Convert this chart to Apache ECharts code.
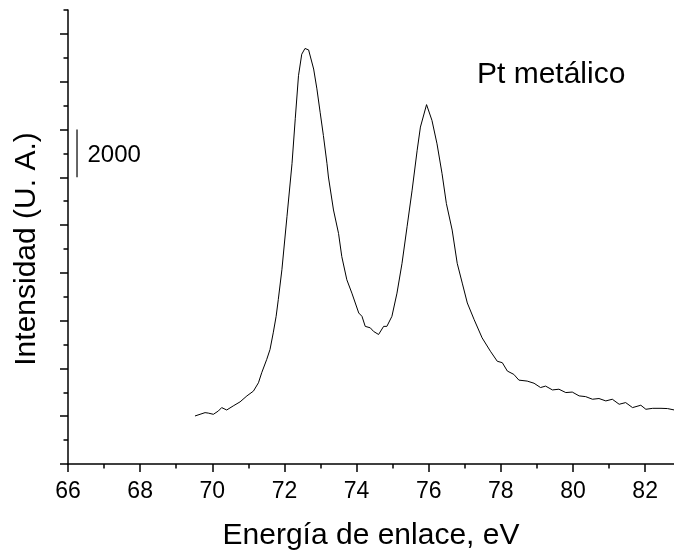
<!DOCTYPE html>
<html>
<head>
<meta charset="utf-8">
<script src="https://cdn.jsdelivr.net/npm/echarts@6/dist/echarts.min.js"></script>
<style>
  html, body { margin: 0; padding: 0; background: #fff; }
  #chart { width: 674px; height: 556px; }
</style>
</head>
<body>
<div id="chart"></div>
<script>
// Binding energy (eV)
const energies = [
  69.52, 69.66, 69.80, 69.89, 70.03, 70.17, 70.26, 70.40, 70.58, 70.77,
  70.96, 71.14, 71.28, 71.37, 71.51, 71.60, 71.69, 71.77, 71.83, 71.93,
  72.07, 72.21, 72.30, 72.39, 72.48, 72.57, 72.62, 72.67, 72.71, 72.81,
  72.90, 72.99, 73.08, 73.18, 73.22, 73.36, 73.50, 73.59, 73.73, 73.87,
  74.06, 74.15, 74.24, 74.38, 74.47, 74.61, 74.75, 74.84, 74.98, 75.12,
  75.26, 75.40, 75.54, 75.68, 75.77, 75.94, 76.09, 76.23, 76.37, 76.49,
  76.65, 76.79, 76.93, 77.07, 77.26, 77.48, 77.71, 77.90, 78.04, 78.18,
  78.36, 78.50, 78.73, 78.92, 79.10, 79.24, 79.43, 79.61, 79.80, 79.98,
  80.17, 80.35, 80.54, 80.72, 80.91, 81.09, 81.28, 81.46, 81.65, 81.88,
  82.02, 82.21, 82.44, 82.62, 82.81
];
// Intensity (arbitrary units)
const intensities = [
  2010, 2080, 2150, 2130, 2080, 2220, 2360, 2260, 2430, 2600,
  2850, 3050, 3400, 3820, 4380, 4790, 5490, 6180, 6880, 8130,
  10350, 12570, 14450, 16250, 17150, 17390, 17430, 17330, 17390, 16530,
  15700, 14720, 13750, 12570, 12010, 10630, 9650, 8680, 7710, 7150,
  6320, 6180, 5760, 5700, 5550, 5420, 5760, 5760, 6180, 7150,
  8400, 9930, 11460, 13130, 14100, 15040, 14380, 13400, 12150, 10900,
  9790, 8400, 7570, 6740, 6040, 5280, 4720, 4300, 4240, 3890,
  3750, 3510, 3470, 3380, 3200, 3260, 3100, 3130, 2990, 3010,
  2850, 2820, 2710, 2740, 2640, 2710, 2500, 2570, 2360, 2460,
  2290, 2330, 2330, 2320, 2260
];
const xTickValues = [66, 68, 70, 72, 74, 76, 78, 80, 82];
const yMajorTicks = [0, 2000, 4000, 6000, 8000, 10000, 12000, 14000, 16000, 18000];
const yMinorTicks = [1000, 3000, 5000, 7000, 9000, 11000, 13000, 15000, 17000, 19000];
// Scale bar: 2000 counts
const scaleBarX = 66.25;
const scaleBarFrom = 12000;
const scaleBarTo = 14000;
const scaleBarLabel = '2000';
const annotation = 'Pt metálico';
const xName = 'Energía de enlace, eV';
const yName = 'Intensidad (U. A.)';

const FONT = '"Liberation Sans", Arial, Helvetica, sans-serif';
const chart = echarts.init(document.getElementById('chart'), null, { renderer: 'canvas' });

const spectrum = energies.map((e, i) => [e, intensities[i]]);
const midBar = (scaleBarFrom + scaleBarTo) / 2;

chart.setOption({
  animation: false,
  backgroundColor: '#fff',
  title: {
    text: annotation,
    left: 477,
    top: 60,
    padding: 0,
    textStyle: { fontFamily: FONT, fontSize: 30, fontWeight: 'normal', color: '#000' }
  },
  grid: { left: 68, right: 0, top: 10, bottom: 91, containLabel: false },
  xAxis: {
    type: 'value',
    min: 66,
    max: 82.8,
    interval: 2,
    name: xName,
    nameLocation: 'middle',
    nameGap: 57,
    nameTextStyle: { fontFamily: FONT, fontSize: 30, color: '#000' },
    axisLine: { show: true, onZero: false, lineStyle: { color: '#000', width: 1.5 } },
    axisTick: { show: true, length: 8, customValues: xTickValues, lineStyle: { color: '#000', width: 1.5 } },
    minorTick: { show: true, splitNumber: 2, length: 4.5, lineStyle: { color: '#000', width: 1.5 } },
    axisLabel: { customValues: xTickValues, margin: 16, fontFamily: FONT, fontSize: 23, color: '#000' },
    splitLine: { show: false }
  },
  yAxis: [
    {
      type: 'value',
      min: 0,
      max: 19000,
      interval: 2000,
      position: 'left',
      name: yName,
      nameLocation: 'middle',
      nameGap: 26,
      nameRotate: 90,
      nameTextStyle: { fontFamily: FONT, fontSize: 30, color: '#000', padding: [0, 24, 0, 0] },
      axisLine: { show: true, onZero: false, lineStyle: { color: '#000', width: 1.5 } },
      axisTick: { show: true, length: 8, customValues: yMajorTicks, lineStyle: { color: '#000', width: 1.5 } },
      axisLabel: { show: false },
      splitLine: { show: false }
    },
    {
      type: 'value',
      min: 0,
      max: 19000,
      interval: 1000,
      position: 'left',
      offset: 0,
      axisLine: { show: false },
      axisTick: { show: true, length: 4.5, customValues: yMinorTicks, lineStyle: { color: '#000', width: 1.5 } },
      axisLabel: { show: false },
      splitLine: { show: false }
    }
  ],
  series: [
    {
      name: 'spectrum',
      type: 'line',
      data: spectrum,
      showSymbol: false,
      symbol: 'none',
      smooth: false,
      lineStyle: { color: '#000', width: 1 },
      silent: true
    },
    {
      name: 'scale bar',
      type: 'line',
      data: [
        [scaleBarX, scaleBarFrom],
        { value: [scaleBarX, midBar], label: { show: true } },
        [scaleBarX, scaleBarTo]
      ],
      showSymbol: true,
      showAllSymbol: true,
      symbol: 'circle',
      symbolSize: 1,
      lineStyle: { color: '#333', width: 1.5 },
      itemStyle: { color: 'rgba(0,0,0,0)', borderWidth: 0 },
      label: {
        show: false,
        position: 'right',
        distance: 10,
        offset: [0, 2],
        formatter: scaleBarLabel,
        fontFamily: FONT,
        fontSize: 24,
        color: '#000'
      },
      silent: true
    }
  ]
});
</script>
</body>
</html>
